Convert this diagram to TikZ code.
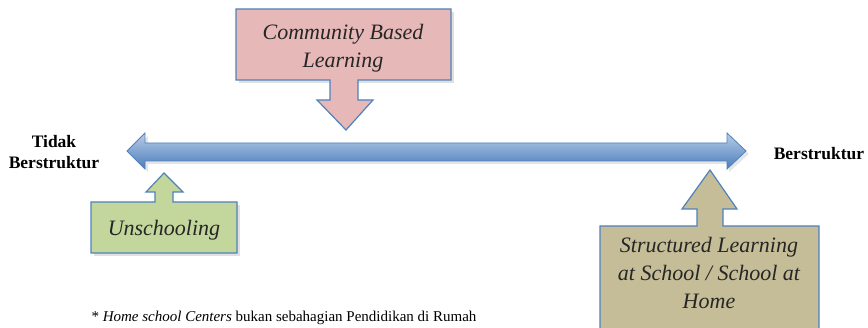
\documentclass[tikz,border=0pt]{standalone}
\usepackage{fontspec}
\setmainfont{Liberation Serif}
\begin{document}
\begin{tikzpicture}[x=1pt,y={(0,-1pt)},
  callout/.style={draw=blueline, line width=1.2pt, line join=miter},
  lbl/.style={font=\fontsize{22}{28}\selectfont\itshape, align=center, text=black!85},
  side/.style={font=\fontsize{17.5}{21}\selectfont\bfseries, align=center},
  shadowfx/.style={fill=black!12}]
\definecolor{blueline}{HTML}{4F81BD}
\definecolor{pinkfill}{HTML}{E6B9B8}
\definecolor{greenfill}{HTML}{C3D69B}
\definecolor{tanfill}{HTML}{C4BD97}
\definecolor{arrtop}{HTML}{B9CDE8}
\definecolor{arrbot}{HTML}{4A7DBB}
\useasboundingbox (0,0) rectangle (868,328);
% double arrow shadow
\fill[black!10] (130,154) -- (148,136) -- (148,146) -- (729,146) -- (729,136) -- (749,154) -- (729,172) -- (729,164) -- (148,164) -- (148,172) -- cycle;
% double arrow
\shade[top color=arrtop, bottom color=arrbot, draw=blueline, line width=0.8pt]
  (127,151) -- (145,133) -- (145,143) -- (727,143) -- (727,133) -- (746,151) -- (727,169) -- (727,161) -- (145,161) -- (145,169) -- cycle;
% Community Based Learning callout
\fill[shadowfx] (239,12) rectangle (454,83);
\draw[callout, fill=pinkfill] (236,9) -- (451,9) -- (451,80) -- (358,80) -- (358,100) -- (373,100) -- (346,130) -- (317,100) -- (330,100) -- (330,80) -- (236,80) -- cycle;
\node[lbl] (cbl) at (343,48) {Community Based\\Learning};
% Unschooling callout
\fill[shadowfx] (94,205) rectangle (240,256);
\draw[callout, fill=greenfill] (91,202) -- (91,253) -- (237,253) -- (237,202) -- (173,202) -- (173,192) -- (183,192) -- (164,173) -- (146,192) -- (155,192) -- (155,202) -- cycle;
\node[lbl] (uns) at (164,230) {Unschooling};
% Structured learning callout
\draw[callout, fill=tanfill] (600,330) -- (600,226) -- (697,226) -- (697,209) -- (682,209) -- (710,170) -- (737,209) -- (723,209) -- (723,226) -- (819,226) -- (819,330);
\node[lbl] (str) at (709,273) {Structured Learning\\at School / School at\\Home};
% side labels
\node[side] (tidak) at (54,152) {Tidak\\Berstruktur};
\node[side] (ber) at (819,154) {Berstruktur};
% footnote
\node[anchor=base west, font=\fontsize{15}{18}\selectfont] (note) at (88,322) {* \textit{Home school Centers} bukan sebahagian Pendidikan di Rumah};
\end{tikzpicture}
\end{document}
